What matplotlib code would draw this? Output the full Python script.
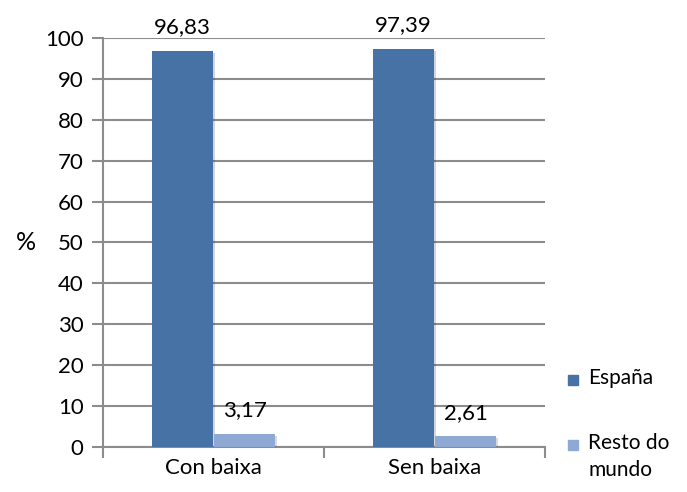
import numpy as np
import matplotlib.pyplot as plt
import matplotlib.patheffects as pe
from matplotlib.patches import Rectangle

categories = ["Con baixa", "Sen baixa"]
espana = [96.83, 97.39]
resto = [3.17, 2.61]
series_names = ["España", "Resto do\nmundo"]
yticks = list(range(0, 101, 10))

dark_blue = "#4672A6"
light_blue = "#8FA9D5"
grid_col = "#8C8C8C"

plt.rcParams['font.family'] = ['Lato', 'DejaVu Sans']
fs = 16

W, H = 687, 492
fig = plt.figure(figsize=(W / 100, H / 100), dpi=100)
ax = fig.add_axes([0.150, 0.0915, 0.643, 0.8313])

x = np.arange(len(categories)) + 0.5
w = 0.276
shadow = [pe.SimplePatchShadow(offset=(1.5, -1.5), alpha=0.18), pe.Normal()]
b1 = ax.bar(x - w - 0.003, espana, w, align='edge', color=dark_blue, zorder=3, path_effects=shadow)
b2 = ax.bar(x + 0.003, resto, w, align='edge', color=light_blue, zorder=3, path_effects=shadow)

for bars, vals in [(b1, espana), (b2, resto)]:
    for r, v in zip(bars, vals):
        ax.text(r.get_x() + r.get_width() / 2, v + 3.3, f"{v:.2f}".replace(".", ","),
                ha='center', va='bottom', fontsize=fs, zorder=4)

ax.set_xlim(0, 2)
ax.set_ylim(0, 100)
ax.set_yticks(yticks)
ax.yaxis.grid(True, color=grid_col, linewidth=1.5)
ax.set_axisbelow(True)

ax.set_xticks([0, 1, 2])
ax.set_xticklabels([])
ax.set_xticks(x, minor=True)
ax.set_xticklabels(categories, minor=True)
ax.tick_params(axis='x', which='minor', length=0, labelsize=fs, pad=8)
ax.tick_params(axis='x', which='major', length=8, width=1.5, color=grid_col, direction='out')
ax.tick_params(axis='y', length=8, width=1.5, color=grid_col, labelsize=fs, pad=6)

for s in ['top', 'right']:
    ax.spines[s].set_visible(False)
for s in ['left', 'bottom']:
    ax.spines[s].set_color(grid_col)
    ax.spines[s].set_linewidth(1.5)

ax.set_ylabel("%", rotation=0, fontsize=18, labelpad=14, va='center')

# legend drawn by hand so the square lines up with the first text line
for col, name, ypx in [(dark_blue, series_names[0], 380), (light_blue, series_names[1], 445)]:
    fig.patches.append(Rectangle(((568) / W, 1 - (ypx + 5) / H), 10 / W, 10 / H,
                                 transform=fig.transFigure, color=col))
    fig.text(588 / W, 1 - (ypx - 12) / H, name, fontsize=15, va='top', ha='left',
             linespacing=1.45)

fig.savefig("out.png", dpi=100)
